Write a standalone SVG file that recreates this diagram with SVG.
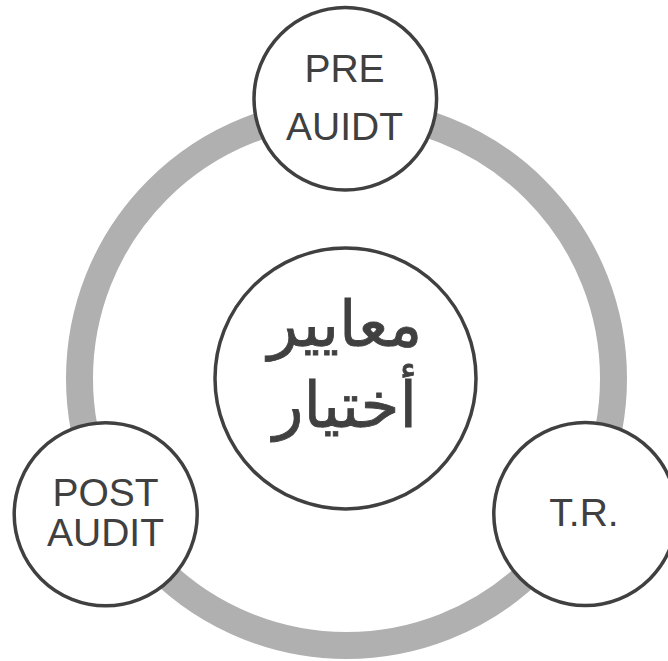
<svg xmlns="http://www.w3.org/2000/svg" width="668" height="661" viewBox="0 0 668 661">
<style>
.node{fill:#ffffff;stroke:#404040;stroke-width:3.5}
.lbl{font-family:"Liberation Sans",Arial,sans-serif;font-size:39px;fill:#404040;text-anchor:middle}
.ar{font-family:"Liberation Sans","DejaVu Sans",sans-serif;font-size:63px;fill:#404040;stroke:#404040;stroke-width:0.8;text-anchor:middle}
.ring{fill:none;stroke:#b0b0b0;stroke-width:27}
</style>
<rect width="668" height="661" fill="#ffffff"/>
<g id="connectors">
<circle class="ring" cx="346.5" cy="378.5" r="267"/>
</g>
<g id="center">
<circle class="node" cx="345.5" cy="378.4" r="130.5"/>
<text class="ar" x="345" y="346" direction="rtl">معايير</text>
<text class="ar" x="345" y="427" direction="rtl">أختيار</text>
</g>
<g id="pre-audit">
<circle class="node" cx="345.3" cy="98.8" r="91.3"/>
<text class="lbl" x="344.5" y="81.7">PRE</text>
<text class="lbl" x="344.5" y="139.5">AUIDT</text>
</g>
<g id="post-audit">
<circle class="node" cx="105.7" cy="514.3" r="91.5"/>
<text class="lbl" x="105.5" y="505.7">POST</text>
<text class="lbl" x="105.5" y="545.7">AUDIT</text>
</g>
<g id="tr">
<circle class="node" cx="585.3" cy="514" r="91.5"/>
<text class="lbl" x="584" y="525.7">T.R.</text>
</g>
</svg>
